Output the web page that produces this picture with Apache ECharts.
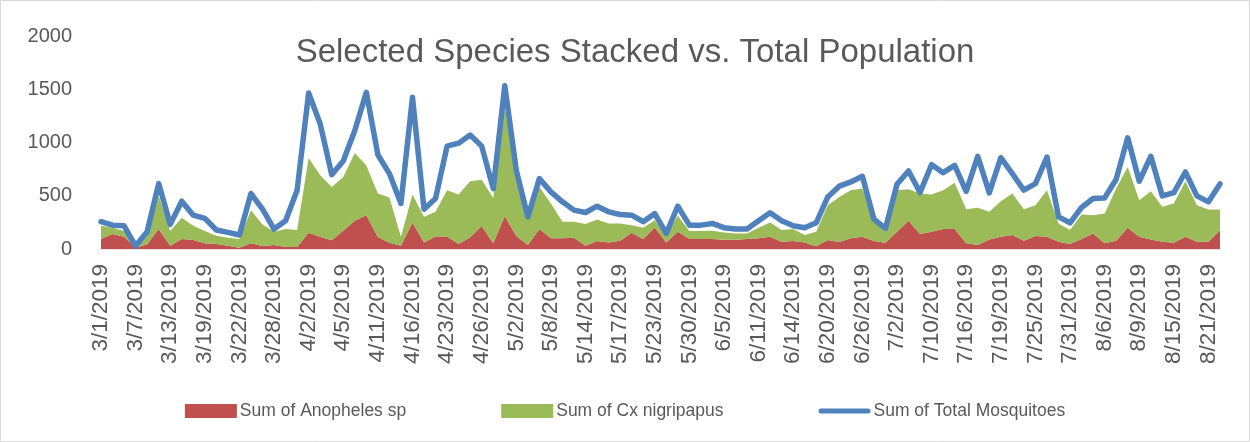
<!DOCTYPE html>
<html lang="en">
<head>
<meta charset="UTF-8">
<title>Selected Species Stacked vs. Total Population</title>
<script src="https://cdn.jsdelivr.net/npm/echarts@6/dist/echarts.min.js"></script>
<style>
    html, body { margin: 0; padding: 0; background: #fff; }
    #chart { width: 1250px; height: 442px; }
</style>
</head>
<body>
<div id="chart"></div>
<script>
// trap dates (one every category, axis shows every 3rd)
var dates = [
    "3/1/2019", "3/4/2019", "3/5/2019", "3/7/2019", "3/8/2019", "3/12/2019",
    "3/13/2019", "3/14/2019", "3/15/2019", "3/19/2019", "3/20/2019", "3/21/2019",
    "3/22/2019", "3/26/2019", "3/27/2019", "3/28/2019", "3/29/2019", "4/1/2019",
    "4/2/2019", "4/3/2019", "4/4/2019", "4/5/2019", "4/9/2019", "4/10/2019",
    "4/11/2019", "4/12/2019", "4/15/2019", "4/16/2019", "4/18/2019", "4/19/2019",
    "4/23/2019", "4/24/2019", "4/25/2019", "4/26/2019", "4/30/2019", "5/1/2019",
    "5/2/2019", "5/3/2019", "5/7/2019", "5/8/2019", "5/9/2019", "5/10/2019",
    "5/14/2019", "5/15/2019", "5/16/2019", "5/17/2019", "5/21/2019", "5/22/2019",
    "5/23/2019", "5/24/2019", "5/29/2019", "5/30/2019", "5/31/2019", "6/4/2019",
    "6/5/2019", "6/6/2019", "6/7/2019", "6/11/2019", "6/12/2019", "6/13/2019",
    "6/14/2019", "6/18/2019", "6/19/2019", "6/20/2019", "6/21/2019", "6/25/2019",
    "6/26/2019", "6/27/2019", "6/28/2019", "7/2/2019", "7/3/2019", "7/9/2019",
    "7/10/2019", "7/11/2019", "7/12/2019", "7/16/2019", "7/17/2019", "7/18/2019",
    "7/19/2019", "7/23/2019", "7/24/2019", "7/25/2019", "7/26/2019", "7/30/2019",
    "7/31/2019", "8/1/2019", "8/2/2019", "8/6/2019", "8/7/2019", "8/8/2019",
    "8/9/2019", "8/13/2019", "8/14/2019", "8/15/2019", "8/16/2019", "8/20/2019",
    "8/21/2019", "8/22/2019"
];

var anopheles = [
    94, 140, 115, 12, 44, 187, 31, 94, 84, 53,
    47, 31, 12, 53, 28, 37, 19, 19, 153, 115,
    81, 171, 265, 318, 112, 59, 31, 249, 62, 118,
    118, 47, 110, 215, 53, 309, 122, 37, 187, 100,
    100, 106, 31, 75, 62, 78, 153, 94, 203, 62,
    162, 94, 94, 94, 87, 87, 94, 100, 115, 69,
    75, 62, 25, 84, 65, 100, 115, 75, 59, 162,
    265, 140, 162, 187, 187, 53, 37, 90, 115, 131,
    78, 122, 115, 69, 47, 94, 146, 53, 78, 200,
    115, 90, 69, 59, 115, 69, 69, 175
];

var cxNigripapus = [
    124, 60, 53, 10, 71, 312, 137, 199, 134, 115,
    78, 75, 82, 312, 203, 125, 168, 159, 701, 577,
    502, 505, 636, 467, 409, 424, 84, 262, 240, 231,
    434, 464, 526, 436, 427, 1022, 570, 312, 396, 327,
    156, 150, 203, 202, 178, 162, 71, 106, 68, 60,
    150, 74, 74, 77, 69, 59, 52, 100, 134, 109,
    112, 69, 137, 327, 424, 452, 452, 187, 103, 390,
    296, 381, 349, 365, 436, 321, 350, 259, 334, 390,
    296, 289, 437, 171, 131, 230, 172, 280, 489, 570,
    343, 452, 327, 368, 521, 342, 302, 196
];

var totalMosquitoes = [
    256, 224, 218, 28, 162, 614, 231, 449, 318, 287,
    178, 156, 131, 521, 374, 187, 265, 552, 1465, 1175,
    698, 826, 1113, 1471, 885, 708, 427, 1424, 374, 474,
    966, 994, 1070, 966, 567, 1533, 739, 302, 661, 536,
    443, 365, 343, 402, 349, 324, 318, 256, 333, 146,
    402, 224, 224, 240, 200, 187, 187, 265, 340, 265,
    218, 200, 246, 489, 590, 630, 683, 280, 193, 608,
    733, 530, 792, 717, 785, 542, 870, 527, 857, 708,
    552, 614, 863, 302, 246, 390, 474, 480, 655, 1044,
    636, 870, 499, 530, 723, 499, 443, 611
];

var yTicks = [0, 500, 1000, 1500, 2000];

var seriesNames = ["Sum of Anopheles sp", "Sum of Cx nigripapus", "Sum of Total Mosquitoes"];
var colors = ["#C0504D", "#9BBB59", "#4F81BD"];
var textColor = "#595959";
var font = "'Liberation Sans', sans-serif";

var chart = echarts.init(document.getElementById('chart'), null, { renderer: 'canvas' });

var option = {
    backgroundColor: '#fff',
    animation: false,
    title: {
        text: 'Selected Species Stacked vs. Total Population',
        left: 630,
        top: 31,
        textAlign: 'center',
        textStyle: { fontFamily: font, fontSize: 33, fontWeight: 'normal', color: textColor }
    },
    legend: {
        left: 'center',
        top: 397,
        itemWidth: 52,
        itemHeight: 14,
        itemGap: 95,
        symbolKeepAspect: true,
        textStyle: { fontFamily: font, fontSize: 17.5, color: textColor, padding: [0, 0, 0, -2] },
        data: [
            { name: seriesNames[0], icon: 'rect' },
            { name: seriesNames[1], icon: 'rect' },
            { name: seriesNames[2], icon: 'path://M2.5,0 L49.5,0 A2.5,2.5 0 0 1 49.5,5 L2.5,5 A2.5,2.5 0 0 1 2.5,0 Z' }
        ]
    },
    graphic: [{
        type: 'rect',
        shape: { x: 0.5, y: 0.5, width: 1249, height: 441 },
        style: { fill: 'none', stroke: '#D9D9D9', lineWidth: 1 },
        silent: true
    }],
    grid: { left: 101, right: 30, top: 36, bottom: 193 },
    xAxis: {
        type: 'category',
        boundaryGap: false,
        data: dates,
        axisLine: { lineStyle: { color: '#D9D9D9', width: 1.5 } },
        axisTick: { show: false },
        axisLabel: {
            interval: 2,
            rotate: 90,
            margin: 15,
            fontFamily: font,
            fontSize: 22.5,
            color: textColor
        },
        splitLine: { show: false }
    },
    yAxis: {
        type: 'value',
        min: yTicks[0],
        max: yTicks[yTicks.length - 1],
        interval: yTicks[1] - yTicks[0],
        axisLine: { show: false },
        axisTick: { show: false },
        splitLine: { show: false },
        axisLabel: {
            margin: 29,
            fontFamily: font,
            fontSize: 20,
            color: textColor,
            formatter: function (v) { return String(v); }
        }
    },
    series: [
        {
            name: seriesNames[0],
            type: 'line',
            stack: 'species',
            data: anopheles,
            symbol: 'none',
            color: colors[0],
            lineStyle: { width: 0 },
            areaStyle: { color: colors[0], opacity: 1 }
        },
        {
            name: seriesNames[1],
            type: 'line',
            stack: 'species',
            data: cxNigripapus,
            symbol: 'none',
            color: colors[1],
            lineStyle: { width: 0 },
            areaStyle: { color: colors[1], opacity: 1 }
        },
        {
            name: seriesNames[2],
            type: 'line',
            data: totalMosquitoes,
            symbol: 'none',
            color: colors[2],
            lineStyle: { width: 5.5, color: colors[2], join: 'round', cap: 'round' },
            z: 5
        }
    ]
};

chart.setOption(option);
</script>
</body>
</html>
